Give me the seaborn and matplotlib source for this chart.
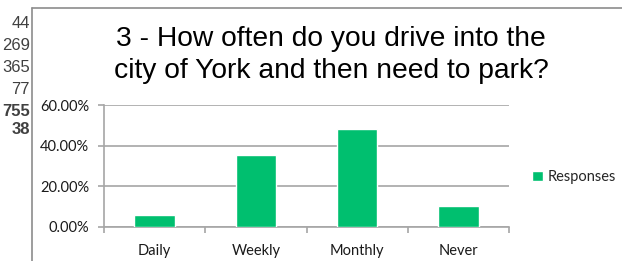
import matplotlib
matplotlib.use('Agg')
import matplotlib.pyplot as plt
import seaborn as sns
import pandas as pd
from matplotlib.lines import Line2D
from matplotlib.ticker import PercentFormatter

# survey counts
categories = ['Daily', 'Weekly', 'Monthly', 'Never']
counts = [44, 269, 365, 77]
answered = 755
skipped = 38
responses = [c / answered for c in counts]

df = pd.DataFrame({'answer': categories, 'share': responses})

sns.set_theme(style='white')
plt.rcParams['font.family'] = ['Lato', 'DejaVu Sans']

W, H = 622, 261
fig = plt.figure(figsize=(W / 100, H / 100), dpi=100)
ax = fig.add_axes([104 / W, 1 - 227 / H, (509 - 104) / W, (227 - 105) / H])

sns.barplot(data=df, x='answer', y='share', color='#00BF6F', width=0.4,
            saturation=1, ax=ax, label='Responses', zorder=3)
if ax.get_legend() is not None:
    ax.get_legend().remove()

grey = '#A6A6A6'
fs = 10.5
ax.set_ylim(0, 0.6)
ax.set_yticks([0, 0.2, 0.4, 0.6])
ax.yaxis.set_major_formatter(PercentFormatter(1.0, decimals=2))
ax.set_xlim(-0.5, len(categories) - 0.5)
ax.set_xticks(range(len(categories)))
ax.set_xticks([i - 0.5 for i in range(len(categories) + 1)], minor=True)
ax.tick_params(axis='x', which='major', length=0, pad=12, labelsize=fs, labelcolor='#1a1a1a')
ax.tick_params(axis='x', which='minor', length=4.5, width=1.2, color=grey, direction='out', bottom=True)
ax.tick_params(axis='y', length=4.5, width=1.2, color=grey, direction='out', left=True,
               pad=6, labelsize=fs, labelcolor='#1a1a1a')
ax.set_xlabel('')
ax.set_ylabel('')
ax.grid(axis='y', color=grey, linewidth=1.2, zorder=0)
ax.grid(axis='x', visible=False)
for s in ['top', 'right']:
    ax.spines[s].set_visible(False)
for s in ['left', 'bottom']:
    ax.spines[s].set_color(grey)
    ax.spines[s].set_linewidth(1.2)

fig.text(331 / W, 1 - 55 / H,
         '3 - How often do you drive into the\ncity of York and then need to park?',
         ha='center', va='center', fontsize=20.3, family=['Liberation Sans'],
         linespacing=1.25, color='#000000')

leg = fig.legend(handles=ax.containers[0][:1], labels=['Responses'],
                 loc='center left', bbox_to_anchor=(532 / W, 1 - 177 / H),
                 frameon=False, fontsize=fs, handlelength=0.75, handleheight=0.75,
                 handletextpad=0.3, borderaxespad=0, borderpad=0)

# frame of the embedded chart and the spreadsheet cells beside it
fig.add_artist(Line2D([32 / W, 32 / W], [0, 1 - 8 / H], transform=fig.transFigure,
                      color='#8c8c8c', linewidth=1.2))
fig.add_artist(Line2D([32 / W, 1], [1 - 8 / H, 1 - 8 / H], transform=fig.transFigure,
                      color='#8c8c8c', linewidth=1.2))
cell_y = [23, 45, 68, 90, 111, 130]
cell_vals = counts + [answered, skipped]
for i, (v, y) in enumerate(zip(cell_vals, cell_y)):
    fig.text(30 / W, 1 - y / H, str(v), ha='right', va='center', fontsize=12,
             family=['Liberation Sans'], color='#404040',
             fontweight='bold' if i >= 4 else 'normal')

fig.savefig('out.png', dpi=100)
